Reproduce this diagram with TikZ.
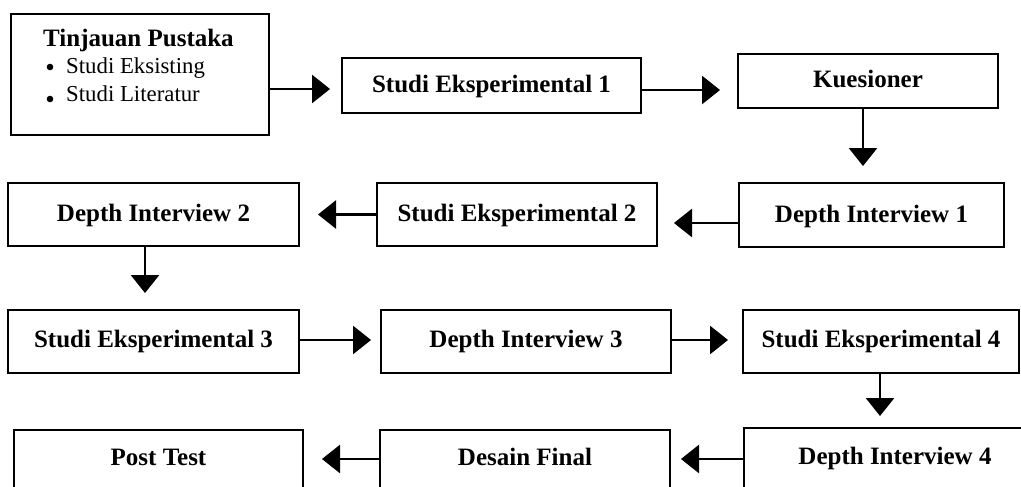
\documentclass[tikz,border=0pt]{standalone}
\usepackage{fontspec}
\setmainfont{Liberation Serif}
\usetikzlibrary{arrows.meta}
\begin{document}
\begin{tikzpicture}[x=1pt,y=-1pt,
  box/.style={draw, line width=1.8pt, inner sep=0pt, outer sep=0pt, anchor=north west,
    font=\fontsize{25}{30}\selectfont\bfseries, text height=17pt, text depth=3pt},
  midbox/.style={box, text depth=6pt},
  lowbox/.style={box, text depth=10pt},
  arr/.style={line width=2.8pt, -{Triangle[length=18pt,width=28pt]}},
  plain/.style={anchor=base west, inner sep=0pt}
]
\useasboundingbox (0,0) rectangle (1021,487);
\clip (0,0) rectangle (1021,487);

\node[box, minimum width=258pt, minimum height=121pt] (tp) at (11,14) {};
\node[plain, font=\fontsize{25}{30}\selectfont\bfseries] (tpt) at (43,47) {Tinjauan Pustaka};
\node[plain, font=\fontsize{22.8}{27}\selectfont] (tp1) at (66,74) {Studi Eksisting};
\node[plain, font=\fontsize{22.8}{27}\selectfont] (tp2) at (66,102) {Studi Literatur};
\fill (50,67) circle (3.3pt);
\fill (50,99) circle (3.3pt);

\node[box, minimum width=299pt, minimum height=55pt] (se1) at (342,58) {Studi Eksperimental 1};
\node[box, minimum width=260pt, minimum height=54pt] (kq) at (738,54) {Kuesioner};
\node[box, minimum width=265pt, minimum height=64pt] (di1) at (739,183) {Depth Interview 1};
\node[box, minimum width=280pt, minimum height=63pt] (se2) at (377,183) {Studi Eksperimental 2};
\node[box, minimum width=291pt, minimum height=63pt] (di2) at (8,183) {Depth Interview 2};
\node[midbox, minimum width=291pt, minimum height=63pt] (se3) at (8,310) {Studi Eksperimental 3};
\node[midbox, minimum width=290pt, minimum height=63pt] (di3) at (381,310) {Depth Interview 3};
\node[midbox, minimum width=276pt, minimum height=63pt] (se4) at (743,310) {Studi Eksperimental 4};
\node[lowbox, minimum width=289pt, minimum height=63pt] (pt) at (14,430) {Post Test};
\node[lowbox, minimum width=290pt, minimum height=63pt] (df) at (380,430) {Desain Final};
\node[lowbox, minimum width=302pt, minimum height=65pt] (di4) at (744,428) {Depth Interview 4};

\draw[arr, shorten >=12pt] ([yshift=-3.5pt]se1.west -| tp.east) -- ([yshift=-3.5pt]se1.west);
\draw[arr, shorten >=18pt] ([yshift=-4.5pt]se1.east) -- ([yshift=-4.5pt]se1.east -| kq.west);
\draw[arr, shorten >=17pt] ([xshift=-5pt]kq.south) -- ([xshift=-5pt]kq.south |- di1.north);
\draw[arr, shorten >=17pt] ([yshift=-8pt]di1.west) -- ([yshift=-8pt]di1.west -| se2.east);
\draw[arr, shorten >=19pt] (se2.west) -- (se2.west -| di2.east);
\draw[arr, shorten >=17pt] ([xshift=-8.5pt]di2.south) -- ([xshift=-8.5pt]di2.south |- se3.north);
\draw[arr, shorten >=10pt] ([yshift=1.5pt]se3.east) -- ([yshift=1.5pt]se3.east -| di3.west);
\draw[arr, shorten >=15pt] ([yshift=1.5pt]di3.east) -- ([yshift=1.5pt]di3.east -| se4.west);
\draw[arr, shorten >=12pt] ([xshift=-1pt]se4.south) -- ([xshift=-1pt]se4.south |- di4.north);
\draw[arr, shorten >=11pt] ([yshift=1.5pt]di4.west) -- ([yshift=1.5pt]di4.west -| df.east);
\draw[arr, shorten >=19pt] ([yshift=2.5pt]df.west) -- ([yshift=2.5pt]df.west -| pt.east);
\end{tikzpicture}
\end{document}
